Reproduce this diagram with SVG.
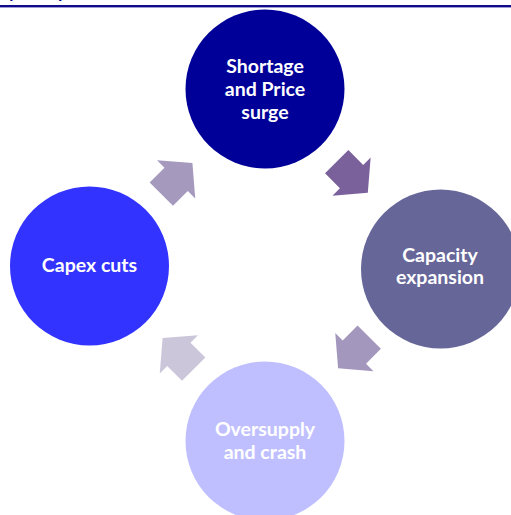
<svg xmlns="http://www.w3.org/2000/svg" width="511" height="515" viewBox="0 0 511 515">
  <style>
    .label { font-family: Lato, "Open Sans", "Liberation Sans", sans-serif; font-weight: 700; font-size: 19.5px; fill: #FFFFFF; text-anchor: middle; }
    .title { font-family: Lato, "Liberation Sans", sans-serif; font-weight: 700; font-size: 18px; fill: #0F0A8C; }
  </style>
  <defs>
    <!-- block arrow pointing along +x, tail centred on the origin -->
    <path id="blockArrow" d="M0,-16.5 L21,-16.5 L21,-27 L44,0 L21,27 L21,16.5 L0,16.5 Z"/>
  </defs>

  <rect width="511" height="515" fill="#FFFFFF"/>

  <!-- heading (clipped at the top edge) and rule -->
  <text class="title" x="8" y="-2.5">y</text>
  <text class="title" x="58" y="-2.5">p</text>
  <rect x="0" y="5" width="511" height="2.4" fill="#0F0A8C"/>

  <!-- cycle stages -->
  <g id="shortage">
    <circle cx="265" cy="89" r="79.5" fill="#000099"/>
    <text class="label" x="265" y="73">Shortage</text>
    <text class="label" x="265" y="96">and Price</text>
    <text class="label" x="265" y="119">surge</text>
  </g>
  <g id="capacity">
    <circle cx="440.5" cy="269" r="79.5" fill="#666699"/>
    <text class="label" x="440" y="261.5">Capacity</text>
    <text class="label" x="440" y="283.5">expansion</text>
  </g>
  <g id="oversupply">
    <circle cx="265" cy="441" r="79.5" fill="#BFBFFF"/>
    <text class="label" x="265" y="436">Oversupply</text>
    <text class="label" x="265" y="458.5">and crash</text>
  </g>
  <g id="capex">
    <circle cx="89.5" cy="266" r="79.5" fill="#3333FF"/>
    <text class="label" x="89.5" y="271.5">Capex cuts</text>
  </g>

  <!-- arrows between stages -->
  <g id="connectors">
    <use href="#blockArrow" fill="#7B619C" transform="translate(336.7,161.7) rotate(45)"/>
    <use href="#blockArrow" fill="#A497BD" transform="translate(369.2,337.2) rotate(135)"/>
    <use href="#blockArrow" fill="#CCC6DA" transform="translate(193.7,369.2) rotate(-135)"/>
    <use href="#blockArrow" fill="#A699BE" transform="translate(161.3,194.2) rotate(-45)"/>
  </g>
</svg>
